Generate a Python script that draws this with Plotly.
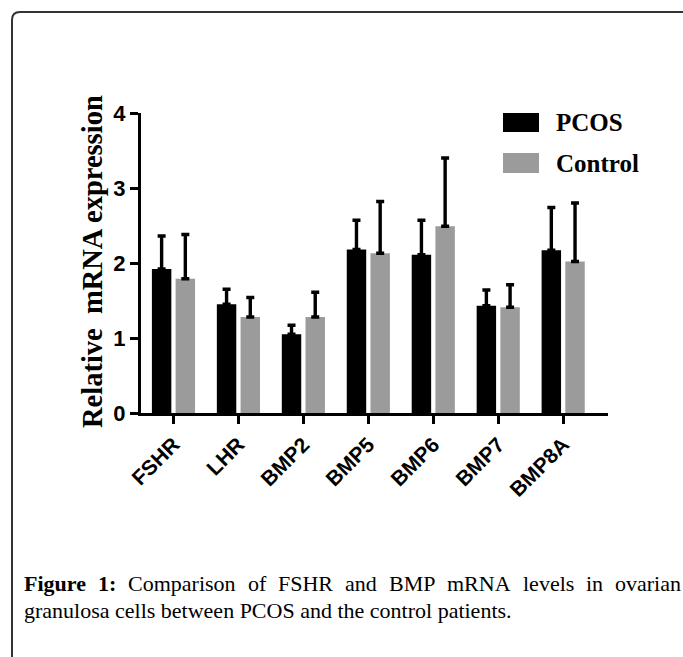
import plotly.graph_objects as go

# ---------------- data ----------------
categories = ["FSHR", "LHR", "BMP2", "BMP5", "BMP6", "BMP7", "BMP8A"]
pcos = [1.92, 1.45, 1.05, 2.18, 2.11, 1.43, 2.17]
pcos_err = [0.44, 0.20, 0.12, 0.39, 0.46, 0.21, 0.57]
control = [1.79, 1.28, 1.28, 2.13, 2.49, 1.41, 2.02]
control_err = [0.59, 0.26, 0.33, 0.69, 0.91, 0.30, 0.78]
y_ticks = [0, 1, 2, 3, 4]
series_names = ["PCOS", "Control"]
caption_line1_words = ["<b>Figure</b>", "<b>1:</b>", "Comparison", "of", "FSHR", "and",
                       "BMP", "mRNA", "levels", "in", "ovarian"]
caption_line2 = "granulosa cells between PCOS and the control patients."

# ---------------- layout geometry (pixels) ----------------
W, H = 683, 657
L, R, T, B = 141, 608, 113, 413   # plot area edges
pw, ph = R - L, B - T

def px(x):
    return (x - L) / pw

def py(y):
    return (B - y) / ph

BLACK = "#000000"
GRAY = "#9b9b9b"
SERIF = "Liberation Serif, Times New Roman, serif"
SANS = "Liberation Sans, Arial, sans-serif"

fig = go.Figure()
fig.add_trace(go.Bar(
    x=categories, y=pcos, name=series_names[0], marker_color=BLACK, marker_line_width=0,
    error_y=dict(type="data", symmetric=False, array=pcos_err, arrayminus=[0] * len(pcos),
                 color=BLACK, thickness=3.4, width=4),
))
fig.add_trace(go.Bar(
    x=categories, y=control, name=series_names[1], marker_color=GRAY, marker_line_width=0,
    error_y=dict(type="data", symmetric=False, array=control_err, arrayminus=[0] * len(control),
                 color=BLACK, thickness=3.4, width=4),
))

fig.update_layout(
    width=W, height=H,
    margin=dict(l=L, r=W - R, t=T, b=H - B, pad=0),
    paper_bgcolor="white", plot_bgcolor="white",
    barmode="group", bargap=0.27, bargroupgap=0.18,
    showlegend=False,
    xaxis=dict(
        type="category", range=[-0.5, 6.69], showgrid=False, zeroline=False,
        showline=True, linecolor=BLACK, linewidth=3,
        ticks="outside", ticklen=8, tickwidth=3, tickcolor=BLACK,
        tickangle=-45, tickfont=dict(family=SANS, size=21, color=BLACK, weight="bold"),
    ),
    yaxis=dict(
        range=[0, 4], tickvals=y_ticks, showgrid=False, zeroline=False,
        showline=True, linecolor=BLACK, linewidth=3,
        ticks="outside", ticklen=8, tickwidth=3, tickcolor=BLACK,
        tickfont=dict(family=SANS, size=22, color=BLACK, weight="bold"),
    ),
)

shapes = []
annotations = []

# y axis title
annotations.append(dict(
    text="<b>Relative\u00a0 mRNA expression</b>", xref="paper", yref="paper",
    x=px(92), y=py(262), xanchor="center", yanchor="middle", textangle=-90,
    showarrow=False, font=dict(family=SERIF, size=28.5, color=BLACK),
))

# legend
legend_rows = [(series_names[0], BLACK, 113, 132), (series_names[1], GRAY, 153, 173)]
for name, col, y0, y1 in legend_rows:
    shapes.append(dict(type="rect", xref="paper", yref="paper",
                       x0=px(503), x1=px(539), y0=py(y1), y1=py(y0),
                       fillcolor=col, line_width=0))
    annotations.append(dict(
        text="<b>%s</b>" % name, xref="paper", yref="paper",
        x=px(554), y=py((y0 + y1) / 2), xanchor="left", yanchor="middle",
        showarrow=False, font=dict(family=SERIF, size=25, color=BLACK),
    ))

# frame around the figure (cropped on right/bottom)
frame_path = "M %f,%f L %f,%f Q %f,%f %f,%f L %f,%f" % (
    px(12), py(700), px(12), py(20), px(12), py(12), px(20), py(12), px(700), py(12))
shapes.append(dict(type="path", xref="paper", yref="paper", path=frame_path,
                   line=dict(color="#333333", width=2)))

# caption (justified first line)
word_x = [22, 96, 126, 246, 276, 343, 387, 445, 521, 584, 613]
for w, x in zip(caption_line1_words, word_x):
    annotations.append(dict(
        text=w, xref="paper", yref="paper", x=px(x), y=py(583),
        xanchor="left", yanchor="middle", showarrow=False,
        font=dict(family=SERIF, size=22, color=BLACK),
    ))
annotations.append(dict(
    text=caption_line2, xref="paper", yref="paper", x=px(22), y=py(610),
    xanchor="left", yanchor="middle", showarrow=False,
    font=dict(family=SERIF, size=22, color=BLACK),
))

fig.update_layout(shapes=shapes, annotations=annotations)
fig.write_html("out.html", config={"displayModeBar": False},
               post_script="document.body.style.margin='0px';")
